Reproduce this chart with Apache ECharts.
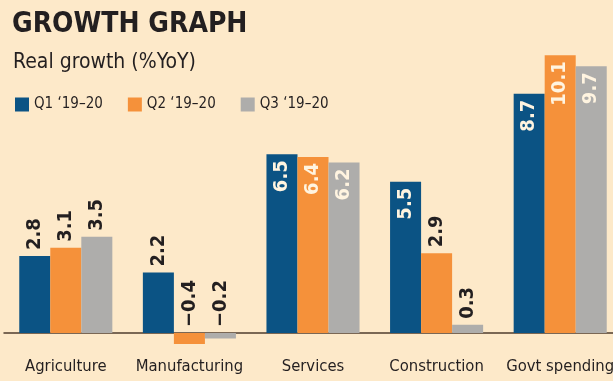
<!DOCTYPE html>
<html><head><meta charset="utf-8">
<script src="https://cdn.jsdelivr.net/npm/echarts@6/dist/echarts.min.js"></script>
<style>html,body{margin:0;padding:0;background:#fde9c9;}#c{width:613px;height:381px;}</style>
</head><body><div id="c"></div>
<script>
const categories = ['Agriculture', 'Manufacturing', 'Services', 'Construction', 'Govt spending'];
const seriesNames = ["Q1 \u201819\u201320", "Q2 \u201819\u201320", "Q3 \u201819\u201320"];
const q1 = [2.8, 2.2, 6.5, 5.5, 8.7];
const q2 = [3.1, -0.4, 6.4, 2.9, 10.1];
const q3 = [3.5, -0.2, 6.2, 0.3, 9.7];
const colors = ['#0b5384', '#f5913a', '#aeadab'];

const FONT = '"DejaVu Sans Condensed", "DejaVu Sans", sans-serif';
const chart = echarts.init(document.getElementById('c'));

function items(vals) {
  return vals.map(v => {
    const inside = v > 5;
    return {
      value: v,
      label: inside ? {
        position: 'insideTop', align: 'right', verticalAlign: 'middle', color: '#fff4e0', distance: 6
      } : {
        position: 'top', align: 'left', verticalAlign: 'middle', color: '#231f20', distance: 6
      }
    };
  });
}

function mk(name, vals, i) {
  return {
    name: name, type: 'bar', data: items(vals), clip: false,
    barGap: '0%', barCategoryGap: '24.7%',
    itemStyle: { color: colors[i] },
    label: {
      show: true, rotate: 90, fontFamily: FONT, fontWeight: 'bold', fontSize: 20,
      formatter: p => p.value.toFixed(1).replace('-', '\u2212')
    }
  };
}

chart.setOption({
  backgroundColor: '#fde9c9',
  animation: false,
  title: [
    { text: 'GROWTH GRAPH', left: 7, top: 6,
      textStyle: { fontFamily: FONT, fontWeight: 'bold', fontSize: 28, color: '#231f20' } },
    { text: 'Real growth (%YoY)', left: 8, top: 47,
      textStyle: { fontFamily: FONT, fontWeight: 'normal', fontSize: 21, color: '#231f20' } }
  ],
  legend: {
    left: 10, top: 92, itemWidth: 14, itemHeight: 14, itemGap: 25,
    icon: 'rect',
    textStyle: { fontFamily: FONT, fontSize: 15, color: '#231f20' },
    data: seriesNames
  },
  grid: { left: 4, top: 44.25, width: 618, height: 288.75, containLabel: false,
          outerBoundsMode: 'none' },
  xAxis: {
    type: 'category', data: categories,
    axisLine: { show: true, lineStyle: { color: '#4f3d2e', width: 1.5 } },
    axisTick: { show: false },
    axisLabel: { fontFamily: FONT, fontSize: 16.5, color: '#231f20', margin: 25, interval: 0, hideOverlap: false }
  },
  yAxis: {
    type: 'value', min: 0, max: 10.5, show: false,
    splitLine: { show: false }
  },
  series: [mk(seriesNames[0], q1, 0), mk(seriesNames[1], q2, 1), mk(seriesNames[2], q3, 2)]
});
</script></body></html>
